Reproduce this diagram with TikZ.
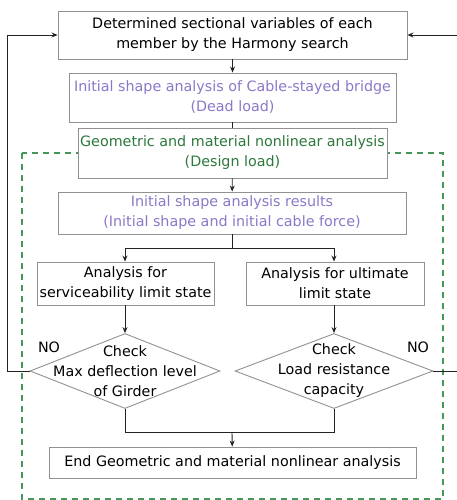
\documentclass[tikz,border=0pt]{standalone}
\usepackage{fontspec}
\setmainfont{DejaVu Sans}
\usepackage{xcolor}
\usepackage{tikz}
\usetikzlibrary{arrows.meta, shapes.geometric}

\definecolor{roxo}{RGB}{140,120,200}
\definecolor{verde}{RGB}{45,120,60}
\definecolor{tracejado}{RGB}{70,150,90}
\definecolor{borda}{RGB}{145,145,145}
\definecolor{linha}{RGB}{35,35,35}

\begin{document}
\begin{tikzpicture}[x=1pt, y=-1pt,
    caixa/.style={draw=borda, line width=0.9pt, fill=white, inner sep=0pt, align=center, font=\fontsize{14.3}{20}\selectfont},
    losango/.style={draw=borda, line width=0.9pt, diamond, inner sep=0pt},
    seta/.style={draw=linha, line width=0.9pt, -{Stealth[length=6pt, width=5pt]}},
    fio/.style={draw=linha, line width=0.9pt}]
  \useasboundingbox (0,0) rectangle (456,500);
  % contorno tracejado da analise nao linear
  \draw[tracejado, line width=1.6pt, dash pattern=on 6pt off 5pt] (22,153) rectangle (443,499);
  % caixas
  \node[caixa, minimum width=349, minimum height=48] (hs) at (232.5,35) {Determined sectional variables of each\\member by the Harmony search};
  \node[caixa, minimum width=327, minimum height=49, text=roxo] (ini) at (232.5,97.5) {Initial shape analysis of Cable-stayed bridge\\(Dead load)};
  \node[caixa, minimum width=309, minimum height=50, text=verde] (gmn) at (232.5,153) {Geometric and material nonlinear analysis\\(Design load)};
  \node[caixa, minimum width=348, minimum height=42, text=roxo] (res) at (232,213) {Initial shape analysis results\\(Initial shape and initial cable force)};
  \node[caixa, minimum width=177, minimum height=43] (sls) at (125.5,283.5) {Analysis for\\serviceability limit state};
  \node[caixa, minimum width=178, minimum height=43] (uls) at (335,283.5) {Analysis for ultimate\\limit state};
  \node[caixa, minimum width=367, minimum height=31] (fim) at (232.5,462.5) {End Geometric and material nonlinear analysis};
  % losangos de verificacao
  \node[losango, minimum width=190, minimum height=75] (chk1) at (125,371) {};
  \node[caixa, draw=none, fill=none] at (chk1) {Check\\Max deflection level\\of Girder};
  \node[losango, minimum width=198, minimum height=75] (chk2) at (334,371) {};
  \node[caixa, draw=none, fill=none] at (chk2) {Check\\Load resistance\\capacity};
  \node[caixa, draw=none, fill=none] (no1) at (49,347) {NO};
  \node[caixa, draw=none, fill=none] (no2) at (418,347) {NO};
  % ligacoes
  \coordinate (r1) at (232,248);
  \coordinate (r2) at (232,432);
  \draw[seta] (hs) -- (ini);
  \draw[fio] (ini) -- (gmn);
  \draw[seta] (gmn) -- (res);
  \draw[fio] (res) -- (r1);
  \draw[seta] (r1) -| (sls.north -| chk1.north);
  \draw[seta] (r1) -| (uls.north -| chk2.north);
  \draw[seta] (sls.south -| chk1.north) -- (chk1.north);
  \draw[seta] (uls.south -| chk2.north) -- (chk2.north);
  \draw[fio] (chk1.south) |- (r2);
  \draw[fio] (chk2.south) |- (r2);
  \draw[seta] (r2) -- (fim);
  % retorno para o Harmony search
  \draw[seta] (chk1.west) -- (7,371) |- (hs.west);
  \draw[seta] (chk2.east) -- (458,371) |- (hs.east);
\end{tikzpicture}
\end{document}
